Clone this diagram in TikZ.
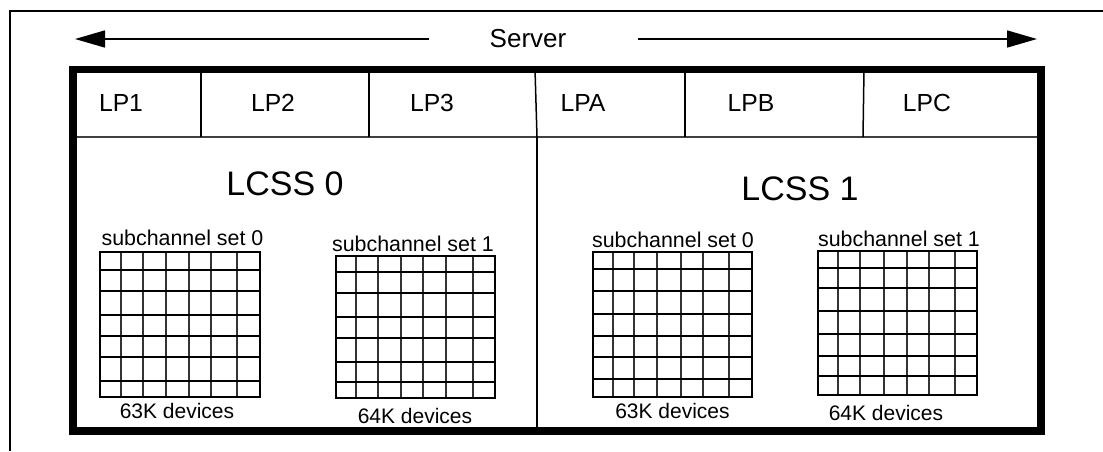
\documentclass[tikz,border=0pt]{standalone}
\usepackage{fontspec}
\setmainfont{Liberation Sans}
\usetikzlibrary{arrows.meta}
\newcommand\chgrid[6]{%
  \draw[gridv] \foreach \xx in {#5}{(\xx,#2) -- (\xx,#4)};
  \draw[gridh] \foreach \yy in {#6}{(#1,\yy) -- (#3,\yy)};
  \draw[gridout] (#1,#2) rectangle (#3,#4);}
\begin{document}
\begin{tikzpicture}[x=1pt,y=-1pt,
  thinframe/.style={line width=1.2pt,black},
  thickframe/.style={line width=7.5pt,black,line join=miter},
  divline/.style={line width=1.5pt,black},
  lpline/.style={line width=1.3pt,black!75},
  gridv/.style={line width=1.2pt,black!80},
  gridh/.style={line width=1.8pt,black},
  gridout/.style={line width=1.8pt,black},
  servarrow/.style={line width=1.5pt,-{Triangle[length=30pt,width=17pt]}},
  lplabel/.style={anchor=base,inner sep=0pt,font=\fontsize{24.7}{28}\selectfont},
  lcsslabel/.style={anchor=base,inner sep=0pt,font=\fontsize{34}{38}\selectfont},
  sublabel/.style={anchor=base,inner sep=0pt,font=\fontsize{21.4}{24}\selectfont},
  devlabel/.style={anchor=base,inner sep=0pt,font=\fontsize{21}{24}\selectfont}]
\useasboundingbox (0,0) rectangle (1103,451);

% thin outer frame (top and left only)
\draw[thinframe] (1103,11) -- (10,11) -- (10,451);

% Server label and arrows
\node[anchor=base,inner sep=0pt,font=\fontsize{26}{30}\selectfont] (server) at (528,47) {Server};
\coordinate (lstart) at (429,39);
\coordinate (ltip) at (75,39);
\coordinate (rstart) at (638,39);
\coordinate (rtip) at (1037,39);
\draw[servarrow] (lstart) -- (ltip);
\draw[servarrow] (rstart) -- (rtip);

% LP row
\draw[lpline] (73,137) -- (1041,137);
\draw[divline] (201,69) -- (201,137);
\draw[divline] (369,69) -- (369,137);
\draw[divline] (535,69) -- (537,137);
\draw[divline] (685,69) -- (685,137);
\draw[divline] (864,69) -- (863,137);
% LCSS divider
\draw[line width=2pt] (537,137) -- (537,431);

\node[lplabel] (lp1) at (121,111) {LP1};
\node[lplabel] (lp2) at (273,111) {LP2};
\node[lplabel] (lp3) at (432,111) {LP3};
\node[lplabel] (lpa) at (583,111) {LPA};
\node[lplabel] (lpb) at (751,111) {LPB};
\node[lplabel] (lpc) at (927,111) {LPC};

% thick frame
\draw[thickframe] (73,69.5) rectangle (1041,431);

% LCSS labels
\node[lcsslabel] (lcss0) at (285,195) {LCSS 0};
\node[lcsslabel] (lcss1) at (800,200) {LCSS 1};

% grids
\chgrid{100}{252}{260}{397}{121,143,166,189,211,237}{270,291,315,336,357,381}
\chgrid{336}{256}{495}{398}{356,378,401,423,446,473}{272,293,317,338,362,382}
\chgrid{593}{252}{752}{397}{613,634,657,681,703,729}{269,291,314,336,357,379}
\chgrid{818}{251}{977}{395}{838,860,884,907,929,955}{268,288,311,334,356,376}

% grid labels
\node[sublabel] (s00) at (182.5,245) {subchannel set 0};
\node[sublabel] (s01) at (413,251) {subchannel set 1};
\node[sublabel] (s10) at (673,247.5) {subchannel set 0};
\node[sublabel] (s11) at (899,246) {subchannel set 1};
\node[devlabel] (d00) at (177,418) {63K devices};
\node[devlabel] (d01) at (415,423) {64K devices};
\node[devlabel] (d10) at (672.5,418) {63K devices};
\node[devlabel] (d11) at (886,420) {64K devices};
\end{tikzpicture}
\end{document}
